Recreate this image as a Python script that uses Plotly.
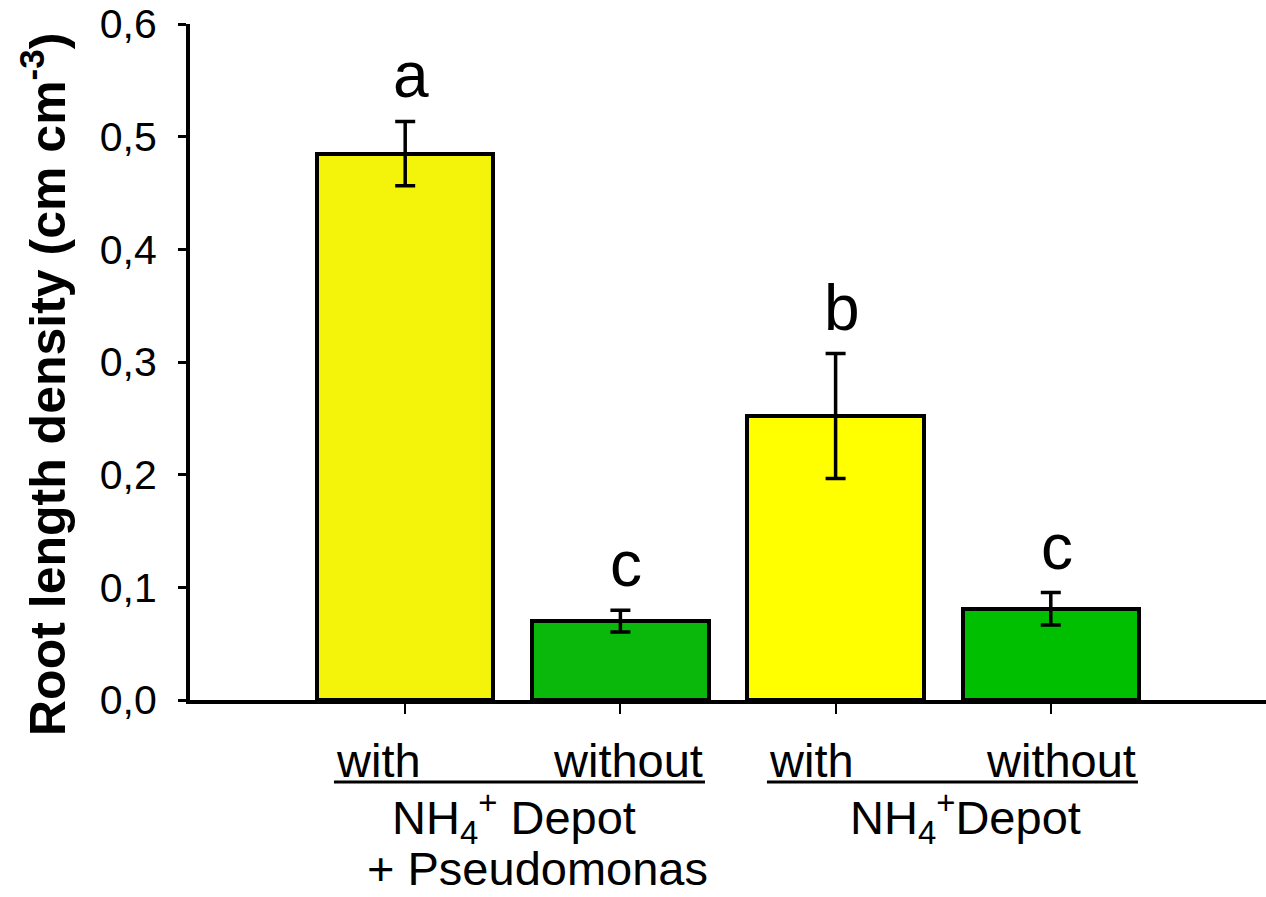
import plotly.graph_objects as go

# Root length density per treatment
treatments = ["with (Depot + Pseudomonas)", "without (Depot + Pseudomonas)",
              "with (Depot)", "without (Depot)"]
rld_mean = [0.485, 0.070, 0.252, 0.081]
rld_err = [0.0285, 0.0096, 0.0555, 0.0144]
letters = ["a", "c", "b", "c"]
bar_colors = ["#f4f40a", "#0ab80c", "#ffff00", "#00be00"]

y_ticks = [0.0, 0.1, 0.2, 0.3, 0.4, 0.5, 0.6]
y_tick_labels = ["0,0", "0,1", "0,2", "0,3", "0,4", "0,5", "0,6"]

FONT = "Arial, Liberation Sans, sans-serif"
W, H = 1266, 897
L, R, T, B = 190, 0, 24, 197

x_pos = list(range(len(rld_mean)))

fig = go.Figure()
fig.add_trace(go.Bar(
    x=x_pos, y=rld_mean, width=0.82,
    marker=dict(color=bar_colors, line=dict(color="black", width=4)),
    error_y=dict(type="data", array=rld_err, visible=True,
                 color="black", thickness=3.5, width=10),
    hoverinfo="skip",
))

# significance letters above the error bars
for xi, m, e, t in zip(x_pos, rld_mean, rld_err, letters):
    fig.add_annotation(x=xi, y=m + e, xref="x", yref="y", text=t,
                       showarrow=False, yanchor="bottom", yshift=8, xshift=6,
                       font=dict(family=FONT, size=64, color="black"))

plot_h = H - T - B


def py(px):
    """pixel row -> paper y"""
    return (H - B - px) / plot_h


# treatment labels and group underlines below the axis
groups = [
    dict(x0=-0.331, x1=1.393, head=["NH<sub>4</sub><sup>+</sup> Depot", "+ Pseudomonas"],
         head_x=[-0.071, -0.187]),
    dict(x0=1.681, x1=3.405, head=["NH<sub>4</sub><sup>+</sup>Depot"], head_x=[2.058]),
]
lab_font = dict(family=FONT, size=47, color="black")
for g in groups:
    fig.add_annotation(x=g["x0"], y=py(760), xref="x", yref="paper", text="with",
                       showarrow=False, xanchor="left", yanchor="middle", font=lab_font)
    fig.add_annotation(x=g["x1"], y=py(760), xref="x", yref="paper", text="without",
                       showarrow=False, xanchor="right", yanchor="middle", font=lab_font)
    fig.add_shape(type="line", xref="x", yref="paper", x0=g["x0"], x1=g["x1"],
                  y0=py(782), y1=py(782), line=dict(color="black", width=3))
    for i, (txt, hx) in enumerate(zip(g["head"], g["head_x"])):
        fig.add_annotation(x=hx, y=py(818 + 50 * i), xref="x", yref="paper", text=txt,
                           showarrow=False, xanchor="left", yanchor="middle", font=lab_font)

# y-axis title
fig.add_annotation(x=(44 - L) / (W - L - R), y=py(385), xref="paper", yref="paper",
                   text="<b>Root length density (cm cm<sup>-3</sup>)</b>",
                   textangle=-90, showarrow=False, xanchor="center", yanchor="middle",
                   font=dict(family=FONT, size=50, color="black"))

fig.update_layout(
    width=W, height=H,
    margin=dict(l=L, r=R, t=T, b=B, pad=0),
    paper_bgcolor="white", plot_bgcolor="white",
    showlegend=False, bargap=0,
    font=dict(family=FONT, color="black"),
)
fig.update_xaxes(range=[-1.0, 4.0], showgrid=False, zeroline=False,
                 showline=True, linecolor="black", linewidth=4,
                 tickmode="array", tickvals=x_pos, ticktext=[""] * len(x_pos),
                 ticks="outside", ticklen=10, tickwidth=1.5, tickcolor="black")
fig.update_yaxes(range=[0, 0.6], showgrid=False, zeroline=False,
                 showline=True, linecolor="black", linewidth=4,
                 tickmode="array", tickvals=y_ticks, ticktext=y_tick_labels,
                 ticks="outside", ticklen=8, tickwidth=2.5, tickcolor="black",
                 ticklabelstandoff=13,
                 tickfont=dict(family=FONT, size=41, color="black"))

fig.write_html("out.html")
